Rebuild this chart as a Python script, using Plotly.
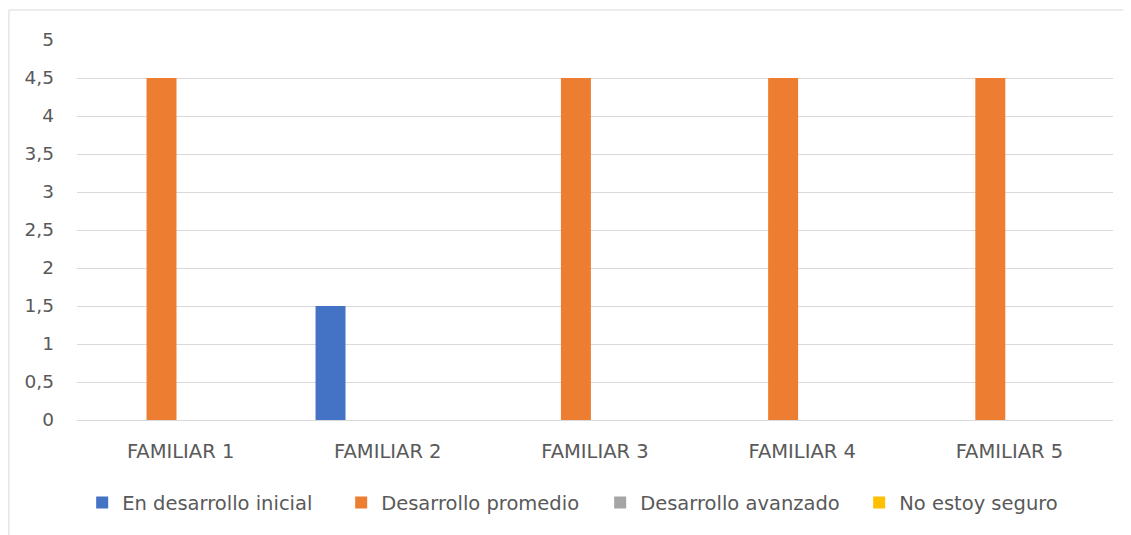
import plotly.graph_objects as go

# datos
familiares = ['FAMILIAR 1', 'FAMILIAR 2', 'FAMILIAR 3', 'FAMILIAR 4', 'FAMILIAR 5']
inicial = [0, 1.5, 0, 0, 0]
promedio = [4.5, 0, 4.5, 4.5, 4.5]
avanzado = [0, 0, 0, 0, 0]
no_seguro = [0, 0, 0, 0, 0]

series = [
    ('En desarrollo inicial', inicial, '#4472C4'),
    ('Desarrollo promedio', promedio, '#ED7D31'),
    ('Desarrollo avanzado', avanzado, '#A5A5A5'),
    ('No estoy seguro', no_seguro, '#FFC000'),
]

fig = go.Figure()
for nombre, valores, color in series:
    fig.add_trace(go.Bar(
        x=familiares,
        y=valores,
        name=nombre,
        marker=dict(color=color, line=dict(width=0)),
    ))

# la página añade 8px de margen al body, se compensa aquí
fig.update_layout(
    width=1123,
    height=527,
    barmode='group',
    bargap=0.263,
    bargroupgap=0.215,
    separators=',.',
    plot_bgcolor='white',
    paper_bgcolor='white',
    font=dict(family='DejaVu Sans, sans-serif', size=16, color='#595959'),
    margin=dict(l=69, r=18, t=32, b=115),
    legend=dict(
        orientation='h',
        x=0.505, xanchor='center',
        y=-0.218, yanchor='middle',
        font=dict(size=19.5, color='#595959'),
        itemwidth=30,
        entrywidth=214,
        traceorder='normal',
    ),
    shapes=[dict(
        type='rect', xref='paper', yref='paper',
        x0=-0.0657, x1=1.03, y0=-0.35, y1=1.079,
        line=dict(color='#D9D9D9', width=1),
        layer='below',
    )],
)

fig.update_xaxes(
    showgrid=False,
    showline=False,
    ticks='',
    tickfont=dict(size=19.5),
    ticklabelstandoff=17,
)
fig.update_yaxes(
    range=[0, 5],
    dtick=0.5,
    showgrid=True,
    gridcolor='#D9D9D9',
    gridwidth=1,
    zeroline=True,
    zerolinecolor='#D9D9D9',
    zerolinewidth=1,
    showline=False,
    ticks='',
    tickfont=dict(size=18.5),
    ticklabelstandoff=22,
)

fig.write_html("out.html")
